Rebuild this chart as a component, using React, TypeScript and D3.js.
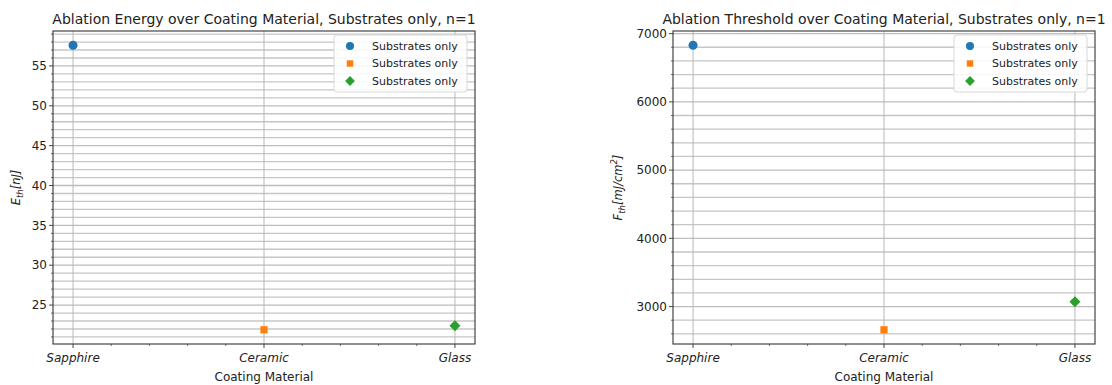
import React, { useEffect } from 'react'
import * as d3 from 'd3'

// coating materials on the x axis
const materials = ['Sapphire', 'Ceramic', 'Glass']
const seriesName = 'Substrates only'

// ablation energy E_th [nJ]
const energyValues = [57.6, 21.9, 22.4]
const energyTicks = [25, 30, 35, 40, 45, 50, 55]

// ablation threshold F_th [mJ/cm^2]
const thresholdValues = [6830, 2660, 3070]
const thresholdTicks = [3000, 4000, 5000, 6000, 7000]

const colors = ['#1f77b4', '#ff7f0e', '#2ca02c']
// matplotlib 'o', 's', 'D' (D = square turned 45deg)
const markerTypes = [d3.symbolCircle, d3.symbolSquare, d3.symbolSquare]
const markerSizes = [64, 52, 60]
const markerRotate = [0, 0, 45]

const font = '"DejaVu Sans", Verdana, sans-serif'

interface P {
    left: number
    right: number
    top: number
    bottom: number
    title: string
    values: number[]
    ticks: number[]
    minorStep: number
    yLabel: React.ReactNode
    yLabelX: number
}

function Panel({ left, right, top, bottom, title, values, ticks, minorStep, yLabel, yLabelX }: P) {
    // matplotlib style 5% margins
    const lo = d3.min(values) as number
    const hi = d3.max(values) as number
    const pad = (hi - lo) * 0.05
    const y = d3.scaleLinear().domain([lo - pad, hi + pad]).range([bottom, top])
    const x = d3.scaleLinear().domain([-0.105, 2.105]).range([left, right])

    const minorY = d3.range(Math.ceil((lo - pad) / minorStep) * minorStep, hi + pad, minorStep)
        .filter(v => !ticks.some(t => Math.abs(t - v) < minorStep / 10))
    const minorX = d3.range(0.2, 2, 0.2).filter(v => Math.abs(v - 1) > 0.01)

    const sym = d3.symbol()

    return <g>
        <text x={(left + right) / 2} y={top - 7} textAnchor="middle" fontSize={14} fill="#222">{title}</text>
        {/* grid */}
        {minorY.map((v, i) => <line key={'gm' + i} x1={left} x2={right} y1={y(v)} y2={y(v)} stroke="#c6c6c6" strokeWidth={1.3} />)}
        {ticks.map((v, i) => <line key={'gM' + i} x1={left} x2={right} y1={y(v)} y2={y(v)} stroke="#bcbcbc" strokeWidth={1.3} />)}
        {materials.map((m, i) => <line key={'gx' + i} x1={x(i)} x2={x(i)} y1={top} y2={bottom} stroke="#b8b8b8" strokeWidth={1} />)}
        {/* frame */}
        <rect x={left} y={top} width={right - left} height={bottom - top} fill="none" stroke="#333" strokeWidth={1.1} />
        {/* y ticks */}
        {minorY.map((v, i) => <line key={'ym' + i} x1={left - 2} x2={left} y1={y(v)} y2={y(v)} stroke="#333" strokeWidth={0.7} />)}
        {ticks.map((v, i) => <g key={'yt' + i}>
            <line x1={left - 4} x2={left} y1={y(v)} y2={y(v)} stroke="#333" strokeWidth={0.9} />
            <text x={left - 6} y={y(v)} dy="0.35em" textAnchor="end" fontSize={12} fill="#222">{v}</text>
        </g>)}
        {/* x ticks */}
        {minorX.map((v, i) => <line key={'xm' + i} x1={x(v)} x2={x(v)} y1={bottom} y2={bottom + 2} stroke="#333" strokeWidth={0.7} />)}
        {materials.map((m, i) => <g key={'xt' + i}>
            <line x1={x(i)} x2={x(i)} y1={bottom} y2={bottom + 4} stroke="#333" strokeWidth={0.9} />
            <text x={x(i)} y={bottom + 18} textAnchor="middle" fontSize={12} fontStyle="italic" fill="#222">{m}</text>
        </g>)}
        <text x={(left + right) / 2} y={bottom + 37} textAnchor="middle" fontSize={12} fill="#222">Coating Material</text>
        <text transform={`translate(${yLabelX},${(top + bottom) / 2}) rotate(-90)`} textAnchor="middle" fontSize={11.5} fontStyle="italic" fill="#222">{yLabel}</text>
        {/* points */}
        {values.map((v, i) => <path key={'pt' + i} transform={`translate(${x(i)},${y(v)}) rotate(${markerRotate[i]})`}
            d={sym.type(markerTypes[i]).size(markerSizes[i])() as string} fill={colors[i]} />)}
        {/* legend */}
        <g transform={`translate(${right - 141},${top + 4})`}>
            <rect x={0} y={0} width={133} height={57} rx={3} fill="white" fillOpacity={0.85} stroke="#d8d8d8" strokeWidth={1} />
            {colors.map((c, i) => <g key={'lg' + i} transform={`translate(0,${11 + i * 17.5})`}>
                <path transform={`translate(16,0) rotate(${markerRotate[i]})`} d={sym.type(markerTypes[i]).size(markerSizes[i] * 0.8)() as string} fill={c} />
                <text x={38} y={0} dy="0.35em" fontSize={11} fill="#222">{seriesName}</text>
            </g>)}
        </g>
    </g>
}

export default function App() {
    useEffect(() => {
        document.body.style.margin = '0'
    }, [])

    return <svg width={1112} height={385} style={{ display: 'block', fontFamily: font, background: 'white' }}>
        <Panel left={53} right={475} top={31} bottom={344}
            title="Ablation Energy over Coating Material, Substrates only, n=1"
            values={energyValues} ticks={energyTicks} minorStep={1} yLabelX={20}
            yLabel={<>E<tspan fontSize={8.5} dy={3}>th</tspan><tspan dy={-3}>[nJ]</tspan></>} />
        <Panel left={673} right={1095} top={31} bottom={344}
            title="Ablation Threshold over Coating Material, Substrates only, n=1"
            values={thresholdValues} ticks={thresholdTicks} minorStep={200} yLabelX={622}
            yLabel={<>F<tspan fontSize={8.5} dy={3}>th</tspan><tspan dy={-3}>[mJ/cm</tspan><tspan fontSize={8.5} dy={-5}>2</tspan><tspan dy={5}>]</tspan></>} />
    </svg>
}
